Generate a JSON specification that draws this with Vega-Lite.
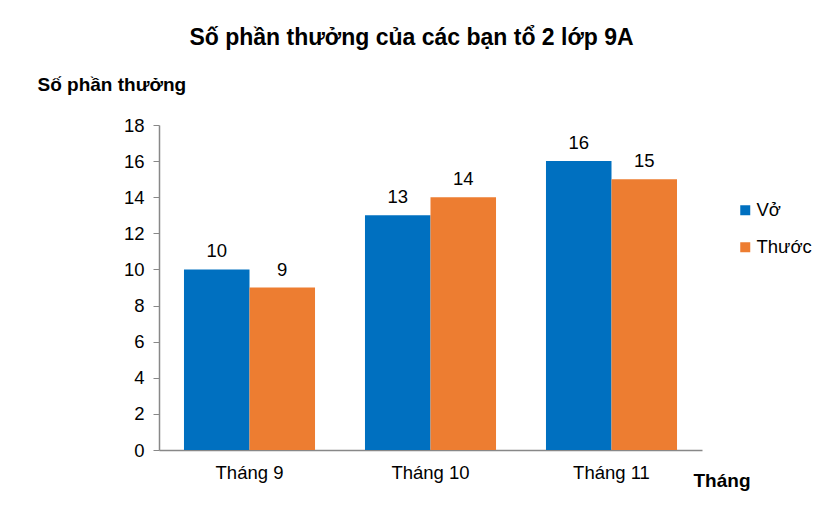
{
  "$schema": "https://vega.github.io/schema/vega-lite/v6.json",
  "width": 543,
  "height": 325,
  "autosize": {"type": "none"},
  "padding": {"left": 159, "top": 125, "right": 128, "bottom": 64},
  "background": "white",
  "title": {
    "text": "Số phần thưởng của các bạn tổ 2 lớp 9A",
    "font": "Liberation Sans",
    "fontSize": 23,
    "fontWeight": "bold",
    "color": "#000000",
    "anchor": "middle",
    "frame": "group",
    "dx": -19,
    "offset": 25
  },
  "data": {
    "values": [
      {"thang": "Tháng 9", "loai": "Vở", "so": 10},
      {"thang": "Tháng 9", "loai": "Thước", "so": 9},
      {"thang": "Tháng 10", "loai": "Vở", "so": 13},
      {"thang": "Tháng 10", "loai": "Thước", "so": 14},
      {"thang": "Tháng 11", "loai": "Vở", "so": 16},
      {"thang": "Tháng 11", "loai": "Thước", "so": 15}
    ]
  },
  "encoding": {
    "x": {
      "field": "thang",
      "type": "nominal",
      "sort": ["Tháng 9", "Tháng 10", "Tháng 11"],
      "scale": {"paddingInner": 0.276, "paddingOuter": 0.138},
      "axis": {
        "title": "Tháng",
        "titleFont": "Liberation Sans",
        "titleFontSize": 19,
        "titleFontWeight": "bold",
        "titleColor": "#000000",
        "titleAnchor": "end",
        "titleAlign": "left",
        "titleX": 534,
        "titleY": 21,
        "labelAngle": 0,
        "labelFont": "Liberation Sans",
        "labelFontSize": 18.5,
        "labelColor": "#000000",
        "labelPadding": 13,
        "ticks": false,
        "domainColor": "#888888",
        "domainWidth": 1.5
      }
    },
    "xOffset": {"field": "loai", "type": "nominal", "sort": ["Vở", "Thước"]},
    "y": {
      "field": "so",
      "type": "quantitative",
      "scale": {"domain": [0, 18]},
      "axis": {
        "title": "Số phần thưởng",
        "titleFont": "Liberation Sans",
        "titleFontSize": 19,
        "titleFontWeight": "bold",
        "titleColor": "#000000",
        "titleAngle": 0,
        "titleAlign": "left",
        "titleBaseline": "middle",
        "titleX": -122,
        "titleY": -41,
        "values": [0, 2, 4, 6, 8, 10, 12, 14, 16, 18],
        "grid": false,
        "labelFont": "Liberation Sans",
        "labelFontSize": 18.5,
        "labelColor": "#000000",
        "labelPadding": 9,
        "tickSize": 6,
        "tickColor": "#888888",
        "domainColor": "#888888",
        "domainWidth": 1.5
      }
    }
  },
  "layer": [
    {
      "mark": {"type": "bar"},
      "encoding": {
        "color": {
          "field": "loai",
          "type": "nominal",
          "sort": ["Vở", "Thước"],
          "scale": {"domain": ["Vở", "Thước"], "range": ["#0070C0", "#ED7D31"]},
          "legend": {
            "title": null,
            "orient": "none",
            "legendX": 577,
            "legendY": 76,
            "symbolType": "square",
            "symbolSize": 100,
            "symbolStrokeWidth": 0,
            "labelFont": "Liberation Sans",
            "labelFontSize": 18.5,
            "labelColor": "#000000",
            "labelOffset": 2,
            "rowPadding": 18
          }
        }
      }
    },
    {
      "mark": {"type": "text", "baseline": "bottom", "dy": -8, "font": "Liberation Sans", "fontSize": 18.5, "color": "#000000"},
      "encoding": {"text": {"field": "so", "type": "quantitative"}}
    }
  ],
  "config": {"view": {"stroke": null}}
}
